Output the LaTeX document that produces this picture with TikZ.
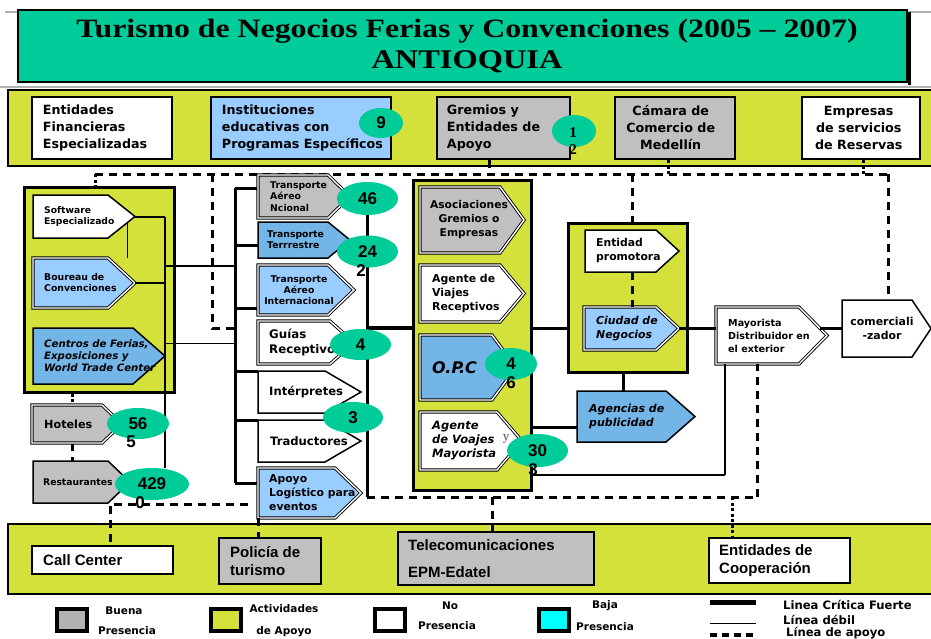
\documentclass[tikz,border=0pt]{standalone}
\usepackage{fontspec}
\usetikzlibrary{shapes.geometric,calc}
\newfontfamily\comic{DejaVu Sans}
\newfontfamily\arialf{Liberation Sans}
\newfontfamily\titlef{Liberation Serif}[FakeStretch=1.2]
\newfontfamily\seriff{Liberation Serif}
\newcommand\cfs[2]{\comic\bfseries\fontsize{#1}{#2}\selectfont}
\newcommand\cfi[2]{\comic\bfseries\itshape\fontsize{#1}{#2}\selectfont}
\newcommand\arb[2]{\arialf\bfseries\fontsize{#1}{#2}\selectfont}
\definecolor{tgreen}{HTML}{00CC99}
\definecolor{ygreen}{HTML}{D4E13A}
\definecolor{gbox}{HTML}{C0C0C0}
\definecolor{lgray}{HTML}{B2B2B2}
\definecolor{lblue}{HTML}{99CCFF}
\definecolor{mblue}{HTML}{74B5E8}
\definecolor{cyanl}{HTML}{00FFFF}
\tikzset{
  ab/.style={draw, line width=1.5pt},
  db/.style={draw, line width=0.9pt, double=white, double distance=1.4pt},
  atext/.style={anchor=west, inner sep=0pt, align=left, font={\cfs{9.3}{11.5}}},
  tb/.style={draw, line width=2.5pt, inner sep=0pt},
  bb/.style={draw, line width=2pt, inner sep=0pt},
  cont/.style={draw, line width=3pt, fill=ygreen, inner sep=0pt},
  ell/.style={ellipse, fill=tgreen, inner sep=0pt, font={\arb{17}{17}}},
  digit/.style={inner sep=0pt, font={\arb{17}{17}}},
  crit/.style={line width=3pt},
  med/.style={line width=2pt},
  weak/.style={line width=1pt},
  apoyo/.style={line width=3pt, dash pattern=on 8pt off 6pt},
  dotl/.style={line width=3pt, dash pattern=on 3pt off 2.5pt},
  legl/.style={inner sep=0pt, font={\cfs{10.5}{12}}},
  legr/.style={inner sep=0pt, anchor=west, font={\cfs{11.6}{12}}},
  legbox/.style={draw, line width=4pt, minimum width=30, minimum height=22, inner sep=0pt},
  topt/.style={font={\cfs{12.7}{17}}},
  bott/.style={font={\arb{15}{18}}},
}
% arrow-shaped box: name, path style, x1, y1, x-chevron, x-tip, y2, text options, text
\newcommand\arw[9]{%
  \path[#2] (#3,#4) -- (#5,#4) -- (#6,{(#4+#7)/2}) -- (#5,#7) -- (#3,#7) -- cycle;
  \coordinate (#1-tip) at (#6,{(#4+#7)/2});
  \coordinate (#1-w) at (#3,{(#4+#7)/2});
  \coordinate (#1-n) at (#3,#4);
  \coordinate (#1-s) at (#3,#7);
  \node[atext,#8] (#1) at (#3,{(#4+#7)/2}) {#9};}
% rectangular box: name, style, x1, y1, x2, y2, text options, text
\newcommand\bx[8]{%
  \node[#2, minimum width={#5-#3}, minimum height={#6-#4}] (#1) at ({(#3+#5)/2},{(#4+#6)/2}) {};
  \node[anchor=west, inner sep=0pt, align=left, #7] (#1-t) at (#1.west) {#8};}
\begin{document}
\begin{tikzpicture}[x=1pt,y=-1pt]
\useasboundingbox (0,0) rectangle (931,638);
% ---------- title ----------
\draw[gray!60, line width=1.5pt] (5,12) -- (931,12);
\node[draw, line width=1.5pt, fill=tgreen, minimum width=889, minimum height=72, inner sep=0pt] (tbox) at (462.5,46) {};
\draw[line width=3pt] ($(tbox.north east)+(2,3)$) -- ($(tbox.south east)+(2,2)$);
\draw[gray!60, line width=2pt] (0,86.5) -- (931,86.5);
\node[inner sep=0pt, font={\titlef\bfseries\fontsize{26.5}{28}\selectfont}] (t1) at (467,31) {Turismo de Negocios Ferias y Convenciones (2005 – 2007)};
\node[inner sep=0pt, font={\titlef\bfseries\fontsize{27}{28}\selectfont}] (t2) at (467,62) {ANTIOQUIA};
% ---------- bars ----------
\node[draw, line width=2pt, fill=ygreen, minimum width=930, minimum height=76, inner sep=0pt] (topbar) at (473,128) {};
\node[draw, line width=2pt, fill=ygreen, minimum width=930, minimum height=70, inner sep=0pt] (botbar) at (473,559) {};
% ---------- containers ----------
\node[cont, minimum width=150, minimum height=205] (lbox) at (99,289.5) {};
\node[cont, minimum width=118, minimum height=310] (mbox) at (472,335) {};
\node[cont, minimum width=119, minimum height=149] (cbox) at (627.5,297.5) {};
% ---------- top boxes ----------
\bx{ef}{tb,fill=white}{32}{97}{172}{159}{xshift=12pt,topt}{Entidades\\Financieras\\Especializadas}
\bx{ie}{tb,fill=lblue}{211}{97}{391}{159}{xshift=12pt,topt}{Instituciones\\educativas con\\Programas Específicos}
\bx{ge}{tb,fill=gbox}{437}{97}{570}{159}{xshift=11pt,topt}{Gremios y\\Entidades de\\Apoyo}
\bx{cc}{tb,fill=gbox}{615}{97}{735}{159}{anchor=center,align=center,xshift=57pt,topt}{Cámara de\\Comercio de\\Medellín}
\bx{es}{tb,fill=white}{802}{97}{920}{159}{anchor=center,align=center,xshift=58pt,topt}{Empresas\\de servicios\\de Reservas}
% ---------- bottom boxes ----------
\bx{callc}{bb,fill=white}{32}{546}{173}{574}{xshift=12pt,bott}{Call Center}
\bx{pt}{bb,fill=gbox}{219}{538}{321}{584}{xshift=12pt,bott}{Policía de\\turismo}
\bx{te}{bb,fill=gbox}{398}{532}{594}{585}{xshift=11pt,font={\arb{15}{27}}}{Telecomunicaciones\\EPM-Edatel}
\bx{ec}{bb,fill=white}{709}{538}{850}{583}{xshift=11pt,bott}{Entidades de\\Cooperación}
% ---------- coordinates for lines ----------
\coordinate (dL) at (95,174);
\coordinate (dR) at (888,174);
\coordinate (dT) at (212,174);
\coordinate (dC) at (632,174);
\coordinate (dB1) at (367,497);
\coordinate (dB2) at (757,497);
\coordinate (dTe) at (492,497);
\coordinate (dEc) at (732,497);
\coordinate (dCc) at (110,504);
\coordinate (dCe) at (248,504);
\coordinate (dH) at (72,392);
\coordinate (busT) at (235,188);
\coordinate (busB) at (235,483);
\coordinate (mbT) at (367,199);
\coordinate (mj) at (367,328);
\coordinate (aj) at (577,427);
\coordinate (wj) at (725,475);
\coordinate (cj) at (623,372);
\coordinate (mc) at (820,328);
\coordinate (lv) at (165,216.5);
\coordinate (lvB) at (165,468);
% ---------- left box internal lines ----------
\draw[weak] (127,216) -- (127,258);
\draw[line width=1.5pt] (lv) -- (lvB);
\draw[med] (165,266) -- (235,266);
\draw[weak] (165,343) -- (235,343);
% ---------- support (dashed) lines ----------
\draw[apoyo] (dL) -- (dR);
\draw[dotl] (dL) -- (dL |- lbox.north);
\draw[apoyo] ($(ge.south west)+(54,0)$) -- ++(0,15);
\draw[dotl] ($(cc.south west)+(55,0)$) -- ++(0,15);
\draw[dotl] ($(es.south west)+(63,0)$) -- ++(0,15);
\draw[apoyo] (dT) |- ($(busT)+(0,140)$);
\draw[apoyo] (dC) -- (dC |- cbox.north);
\draw[apoyo] (dB1) -- (dB2);
\draw[apoyo] (dTe) -- (dTe |- te.north);
\draw[dotl] (dEc) -- (dEc |- ec.north);
\draw[apoyo] (dCe) -- (dCc) -- (dCc |- callc.north);
\draw[dotl] (dH |- lbox.south) -- (dH |- 0,405);
\draw[apoyo] (dH |- 0,443) -- (dH |- 0,461);
% ---------- critical lines ----------
\draw[crit] (busT) -- (busB);
\foreach \yy in {188,245,308,371,420,483} \draw[crit] (235,\yy) -- (258,\yy);
\draw[crit] (mbT) -- (dB1);
\draw[line width=4pt] (mj) -- (mj -| mbox.west);
\draw[crit] (mbox.east |- mj) -- (cbox.west |- mj);
\draw[crit] (aj -| mbox.east) -- (aj);
\draw[line width=1.5pt] (wj -| mbox.east) -- (wj);
\draw[crit] (cj) -- (cj |- 0,391);
% ---------- left column ----------
\arw{soft}{ab,fill=white}{33}{195}{108}{135}{238}{xshift=11pt,font={\cfs{9.2}{11}}}{Software\\Especializado}
\arw{bour}{db,fill=lblue}{33}{258}{108}{135}{308}{xshift=11pt,font={\cfs{9.3}{11}}}{Boureau de\\Convenciones}
\arw{cent}{ab,fill=mblue}{33}{328}{133}{165}{384}{xshift=11pt,font={\cfi{10.2}{12}}}{Centros de Ferias,\\Exposiciones y\\World Trade Center}
\arw{hot}{db,fill=gbox}{32}{405}{102}{122}{443}{xshift=12pt,font={\cfs{11.2}{13}}}{Hoteles}
\arw{rest}{ab,fill=gbox}{33}{461}{108}{130}{503}{xshift=10pt,font={\cfs{9.2}{11}}}{Restaurantes}
\draw[med] (soft-tip) -- (lv);
\draw[med] (bour-tip) -- (bour-tip -| lv);
% ---------- transport column ----------
\arw{tan}{db,fill=gbox}{258}{175}{328}{350}{218}{xshift=12pt,font={\cfs{9.3}{11.5}}}{Transporte\\Aéreo\\Ncional}
\arw{tte}{ab,fill=mblue}{258}{222}{328}{350}{258}{xshift=9pt,font={\cfs{9.3}{11}}}{Transporte\\Terrrestre}
\arw{tai}{db,fill=lblue}{258}{265}{328}{354}{315}{anchor=center,align=center,xshift=41pt,font={\cfs{9.3}{11}}}{Transporte\\Aéreo\\Internacional}
\arw{gui}{db,fill=white}{258}{321}{330}{354}{364}{xshift=11pt,font={\cfs{11.8}{14.5}}}{Guías\\Receptivos}
\arw{int}{ab,fill=white}{258}{371}{325}{361}{413}{xshift=11pt,font={\cfs{11.6}{13}}}{Intérpretes}
\arw{tra}{ab,fill=white}{258}{420}{325}{361}{462}{xshift=12pt,font={\cfs{11.6}{13}}}{Traductores}
\arw{apo}{db,fill=lblue}{258}{468}{335}{361}{518}{xshift=11pt,font={\cfs{10.8}{14}}}{Apoyo\\Logístico para\\eventos}
\draw[apoyo] (apo-s) -- (apo-s |- pt.north);
% ---------- middle column ----------
\arw{aso}{db,fill=gbox}{420}{187}{500}{524}{253}{anchor=center,align=center,xshift=49pt,font={\cfs{10.7}{14}}}{Asociaciones\\Gremios o\\Empresas}
\arw{avr}{db,fill=white}{420}{265}{500}{524}{322}{xshift=12pt,font={\cfs{10.9}{14}}}{Agente de\\Viajes\\Receptivos}
\arw{opc}{db,fill=mblue}{420}{335}{492}{516}{400}{xshift=12pt,font={\cfi{16}{18}}}{O.P.C}
\arw{avm}{db,fill=white}{420}{412}{497}{522}{470}{xshift=12pt,font={\cfi{11.5}{14}}}{Agente\\de Voajes\\Mayorista}
\node[inner sep=0pt, text=black!70, font={\seriff\fontsize{13}{13}\selectfont}] (yv) at (506,439) {y};
% ---------- right side ----------
\arw{ent}{ab,fill=white}{585}{230}{656}{679}{272}{xshift=11pt,font={\cfs{10.8}{14}}}{Entidad\\promotora}
\arw{ciu}{db,fill=lblue}{584}{307}{656}{679}{350}{xshift=12pt,font={\cfi{10.9}{14}}}{Ciudad de\\Negocios}
\draw[apoyo] (dC |- ent-s) -- (dC |- ciu-n);
\arw{age}{ab,fill=mblue}{577}{391}{666}{695}{442}{xshift=12pt,font={\cfi{11}{14}}}{Agencias de\\publicidad}
\arw{may}{db,fill=white}{716}{307}{799}{827}{364}{xshift=12pt,font={\cfs{9.6}{13}}}{Mayorista\\Distribuidor en\\el exterior}
\arw{com}{ab,fill=white}{842}{300}{912}{931}{357}{anchor=center,align=center,xshift=40pt,font={\cfs{10.9}{14}}}{comerciali\\-zador}
\draw[crit] (ciu-tip) -- (ciu-tip -| may-w);
\draw[crit] (mc) -- (mc -| com-w);
\draw[line width=1.5pt] (wj) -- (wj |- may-s);
\draw[apoyo] (dB2) -- (dB2 |- may-s);
\draw[apoyo] (dR) -- (dR |- com-n);
% ---------- ellipses ----------
\node[ell, minimum width=44, minimum height=30] (e9) at (381,123) {9};
\node[ell, minimum width=44, minimum height=32] (e12) at (574,131) {};
\node[digit, font={\seriff\bfseries\fontsize{15}{15}\selectfont}] (e12a) at (573,133) {1};
\node[digit, font={\seriff\bfseries\fontsize{15}{15}\selectfont}] (e12b) at (573,150) {2};
\node[ell, minimum width=61, minimum height=33] (e46) at (367.5,198.5) {46};
\node[ell, minimum width=61, minimum height=32] (e24) at (367.5,251.5) {24};
\node[digit] (e24b) at (361,271) {2};
\node[ell, minimum width=61, minimum height=31] (e4) at (360.5,344.5) {4};
\node[ell, minimum width=60, minimum height=31] (e3) at (353,417.5) {3};
\node[ell, minimum width=62, minimum height=31] (e56) at (138,423.5) {56};
\node[digit] (e56b) at (131,442) {5};
\node[ell, minimum width=74, minimum height=32] (e429) at (152,484) {429};
\node[digit] (e429b) at (140,503) {0};
\node[ell, minimum width=52, minimum height=32] (eopc) at (511,364) {4};
\node[digit] (eopcb) at (511,383) {6};
\node[ell, minimum width=61, minimum height=33] (e30) at (537.5,450.5) {30};
\node[digit] (e30b) at (533,470) {3};
% ---------- legend ----------
\node[legbox, fill=lgray] (lg1) at (72,620) {};
\node[legl] (lg1a) at (124,611) {Buena};
\node[legl] (lg1b) at (127,631) {Presencia};
\node[legbox, fill=ygreen] (lg2) at (226,620) {};
\node[legl] (lg2a) at (284,609) {Actividades};
\node[legl] (lg2b) at (284,632) {de Apoyo};
\node[legbox, fill=white] (lg3) at (390,620) {};
\node[legl] (lg3a) at (450,606) {No};
\node[legl] (lg3b) at (447,626) {Presencia};
\node[legbox, fill=cyanl] (lg4) at (553.5,620) {};
\node[legl] (lg4a) at (605,606) {Baja};
\node[legl] (lg4b) at (605,627) {Presencia};
\coordinate (l1a) at (710,602); \coordinate (l1b) at (756,602);
\coordinate (l2a) at (710,623); \coordinate (l2b) at (756,623);
\coordinate (l3a) at (710,635); \coordinate (l3b) at (756,635);
\draw[line width=5pt] (l1a) -- (l1b);
\draw[weak] (l2a) -- (l2b);
\draw[line width=4pt, dash pattern=on 7pt off 5pt] (l3a) -- (l3b);
\node[legr] (lr1) at (783,605) {Linea Crítica Fuerte};
\node[legr] (lr2) at (783,620) {Línea débil};
\node[legr] (lr3) at (786,633) {Línea de apoyo};
\end{tikzpicture}
\end{document}
